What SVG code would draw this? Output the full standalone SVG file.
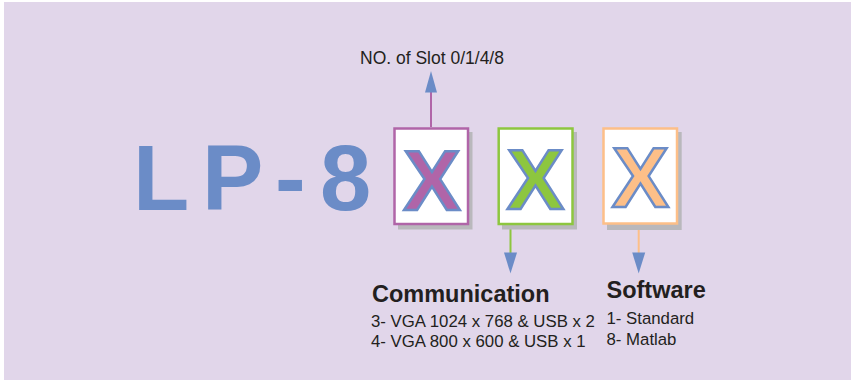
<svg xmlns="http://www.w3.org/2000/svg" width="852" height="383" viewBox="0 0 852 383">
<style>
.lbl{font-family:"Liberation Sans",Arial,sans-serif;fill:#231F20}
.small{font-size:16.8px}
.head{font-size:23.5px;font-weight:bold}
.big{font-family:"Liberation Sans",Arial,sans-serif;font-weight:bold;font-size:92px;fill:#6B8CC7}
.xl{font-family:"Liberation Sans",Arial,sans-serif;font-weight:bold;font-size:86px;stroke:#6B8CC7;stroke-width:2.5;text-anchor:middle}
.shadow{fill:#B9B8BC}
.box{fill:#FFFFFF;stroke-width:2.5}
.arrowhead{fill:#6B8CC7}
</style>
<rect x="0" y="0" width="852" height="383" fill="#FFFFFF"/>
<rect x="4" y="2" width="847" height="378" fill="#E1D6EA"/>

<g id="title">
<text class="big" x="133" y="210">L</text>
<text class="big" x="202" y="210">P</text>
<text class="big" x="275" y="210">-</text>
<text class="big" x="320" y="210">8</text>
</g>

<g id="connectors">
<line x1="431" y1="127" x2="431" y2="90" stroke="#B065A8" stroke-width="2"/>
<polygon class="arrowhead" points="431,71 425,92.5 437,92.5"/>
<line x1="510.5" y1="225" x2="510.5" y2="254" stroke="#8DC63F" stroke-width="2"/>
<polygon class="arrowhead" points="504,252.5 517,252.5 510.5,273.5"/>
<line x1="638.7" y1="225" x2="638.7" y2="254" stroke="#FDBF88" stroke-width="2"/>
<polygon class="arrowhead" points="632.2,252.5 645.2,252.5 638.7,273.5"/>
</g>

<g id="slot">
<rect class="shadow" x="398" y="132" width="74.5" height="97.5"/>
<rect class="box" x="394.5" y="128.5" width="73.5" height="95.5" stroke="#B065A8"/>
<text class="xl" x="432" y="209.5" fill="#B065A8">X</text>
</g>

<g id="communication">
<rect class="shadow" x="502" y="132" width="75" height="97.5"/>
<rect class="box" x="498.7" y="128.5" width="73.8" height="95.5" stroke="#8DC63F"/>
<text class="xl" x="535.5" y="209" fill="#8DC63F">X</text>
</g>

<g id="software">
<rect class="shadow" x="607" y="132" width="74.7" height="98"/>
<rect class="box" x="603.5" y="128.5" width="73.5" height="95" stroke="#FDBF88"/>
<text class="xl" x="640.5" y="207" fill="#FDBF88">X</text>
</g>

<g id="labels">
<text class="lbl" x="360" y="64" font-size="17.5">NO. of Slot 0/1/4/8</text>
<text class="lbl head" x="372" y="301.5">Communication</text>
<text class="lbl small" x="371" y="326.7">3- VGA 1024 x 768 &amp; USB x 2</text>
<text class="lbl small" x="371" y="347.3">4- VGA 800 x 600 &amp; USB x 1</text>
<text class="lbl head" x="606.5" y="298.3">Software</text>
<text class="lbl small" x="606.5" y="324.3">1- Standard</text>
<text class="lbl small" x="606.5" y="345">8- Matlab</text>
</g>
</svg>
